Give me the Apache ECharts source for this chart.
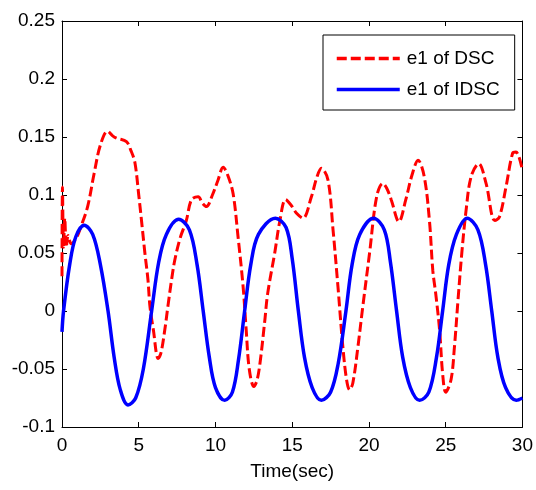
<!DOCTYPE html>
<html>
<head>
<meta charset="utf-8">
<script src="https://cdn.jsdelivr.net/npm/echarts@6/dist/echarts.min.js"></script>
<style>html,body{margin:0;padding:0;background:#fff;}#c{width:536px;height:490px;}</style>
</head>
<body>
<div id="c"></div>
<script>
var xTicks = [0, 5, 10, 15, 20, 25, 30];
var yTicks = [-0.1, -0.05, 0, 0.05, 0.1, 0.15, 0.2, 0.25];
var seriesNames = ['e1 of DSC', 'e1 of IDSC'];

var dscTime = [0,0.03,0.1,0.18,0.28,0.4,0.6,0.9,1.24,1.67,2.1,2.5,2.97,3.3,3.56,4.2,4.5,4.75,5.0,5.18,5.4,5.6,5.73,5.95,6.27,6.45,6.7,6.9,7.14,7.35,7.7,8.1,8.44,8.87,9.15,9.41,9.8,10.17,10.5,10.8,11.15,11.47,11.8,12.0,12.2,12.5,12.7,12.9,13.2,13.4,13.86,14.2,14.57,14.94,15.3,15.7,16.25,16.6,16.9,17.33,17.66,17.98,18.3,18.55,18.74,18.95,19.28,19.6,20.04,20.5,20.9,21.15,21.45,21.95,22.4,22.8,23.2,23.6,23.94,24.16,24.35,24.6,24.8,25.0,25.35,25.57,25.8,26.05,26.33,26.66,27.15,27.63,28.2,28.5,28.93,29.36,29.58,30];
var dscValues = [0.03,0.107,0.055,0.08,0.055,0.065,0.058,0.062,0.073,0.09,0.119,0.143,0.155,0.151,0.149,0.146,0.138,0.128,0.1,0.078,0.05,0.027,0.004,-0.016,-0.041,-0.036,-0.016,0.004,0.027,0.044,0.063,0.078,0.096,0.0985,0.093,0.09,0.1,0.113,0.124,0.117,0.101,0.064,0.021,-0.016,-0.05,-0.065,-0.06,-0.045,-0.01,0.015,0.05,0.078,0.096,0.091,0.084,0.08,0.0985,0.115,0.123,0.113,0.07,0.021,-0.031,-0.06,-0.068,-0.062,-0.031,0.004,0.05,0.0985,0.11,0.106,0.096,0.077,0.096,0.117,0.13,0.116,0.078,0.035,0.015,-0.016,-0.054,-0.07,-0.059,-0.031,0.009,0.05,0.087,0.116,0.127,0.11,0.078,0.081,0.107,0.136,0.137,0.121];

var idscTime = [0,0.1,0.5,0.9,1.45,2.0,2.5,3.0,3.4,3.8,4.3,4.8,5.3,5.84,6.3,6.8,7.6,8.3,8.8,9.2,9.6,10.0,10.6,11.1,11.5,11.9,12.3,12.8,13.9,14.6,15.0,15.4,15.8,16.3,16.9,17.5,18.0,18.5,18.9,19.4,20.3,21.0,21.4,21.8,22.2,22.7,23.3,23.9,24.4,24.8,25.2,25.7,26.4,27.1,27.6,28.0,28.4,28.9,29.6,30];
var idscValues = [-0.018,0,0.04,0.064,0.074,0.066,0.04,0,-0.04,-0.068,-0.081,-0.075,-0.05,0,0.042,0.066,0.079,0.07,0.04,0,-0.04,-0.066,-0.077,-0.07,-0.042,0,0.04,0.066,0.08,0.072,0.045,0,-0.04,-0.066,-0.077,-0.07,-0.045,0,0.04,0.066,0.08,0.07,0.042,0,-0.04,-0.066,-0.077,-0.07,-0.04,0,0.04,0.066,0.08,0.07,0.04,0,-0.04,-0.066,-0.077,-0.075];

function pairs(t, v) { return t.map(function (x, i) { return [x, v[i]]; }); }

var font = 'Liberation Sans, Arial, Helvetica, sans-serif';
var axisLine = { show: true, onZero: false, lineStyle: { color: '#000', width: 1 } };
var tick = { show: true, inside: true, length: 5, lineStyle: { color: '#000' } };

var chart = echarts.init(document.getElementById('c'), null, { renderer: 'canvas' });
chart.setOption({
  animation: false,
  backgroundColor: '#fff',
  grid: { left: 62, top: 21, right: 13, bottom: 63 },
  legend: {
    orient: 'vertical',
    left: 323, top: 35,
    padding: [14, 15, 11, 12],
    itemGap: 12,
    itemWidth: 63, itemHeight: 20,
    backgroundColor: '#fff',
    borderColor: '#000', borderWidth: 1,
    itemStyle: { opacity: 0 },
    lineStyle: { width: 3.5 },
    textStyle: { fontFamily: font, fontSize: 19, color: '#000', padding: [0, 0, 0, 2] },
    data: seriesNames
  },
  xAxis: [{
    type: 'value', min: xTicks[0], max: xTicks[xTicks.length - 1], interval: 5,
    name: 'Time(sec)', nameLocation: 'middle', nameGap: 35,
    nameTextStyle: { fontFamily: font, fontSize: 19, color: '#000' },
    axisLine: axisLine, axisTick: tick, splitLine: { show: false },
    axisLabel: { fontFamily: font, fontSize: 19, color: '#000', margin: 9 }
  }, {
    type: 'value', position: 'top', min: xTicks[0], max: xTicks[xTicks.length - 1], interval: 5,
    axisLine: axisLine, axisTick: tick, splitLine: { show: false }, axisLabel: { show: false }
  }],
  yAxis: [{
    type: 'value', min: yTicks[0], max: yTicks[yTicks.length - 1], interval: 0.05,
    axisLine: axisLine, axisTick: tick, splitLine: { show: false },
    axisLabel: { fontFamily: font, fontSize: 19, color: '#000', margin: 7 }
  }, {
    type: 'value', position: 'right', min: yTicks[0], max: yTicks[yTicks.length - 1], interval: 0.05,
    axisLine: axisLine, axisTick: tick, splitLine: { show: false }, axisLabel: { show: false }
  }],
  series: [{
    name: seriesNames[0], type: 'line', symbol: 'none', smooth: 0.35,
    data: pairs(dscTime, dscValues),
    lineStyle: { color: '#ff0000', width: 3, type: [10, 4] },
    itemStyle: { color: '#ff0000' },
    z: 2
  }, {
    name: seriesNames[1], type: 'line', symbol: 'none', smooth: 0.35,
    data: pairs(idscTime, idscValues),
    lineStyle: { color: '#0000ff', width: 3.5 },
    itemStyle: { color: '#0000ff' },
    z: 3
  }]
});
</script>
</body>
</html>
